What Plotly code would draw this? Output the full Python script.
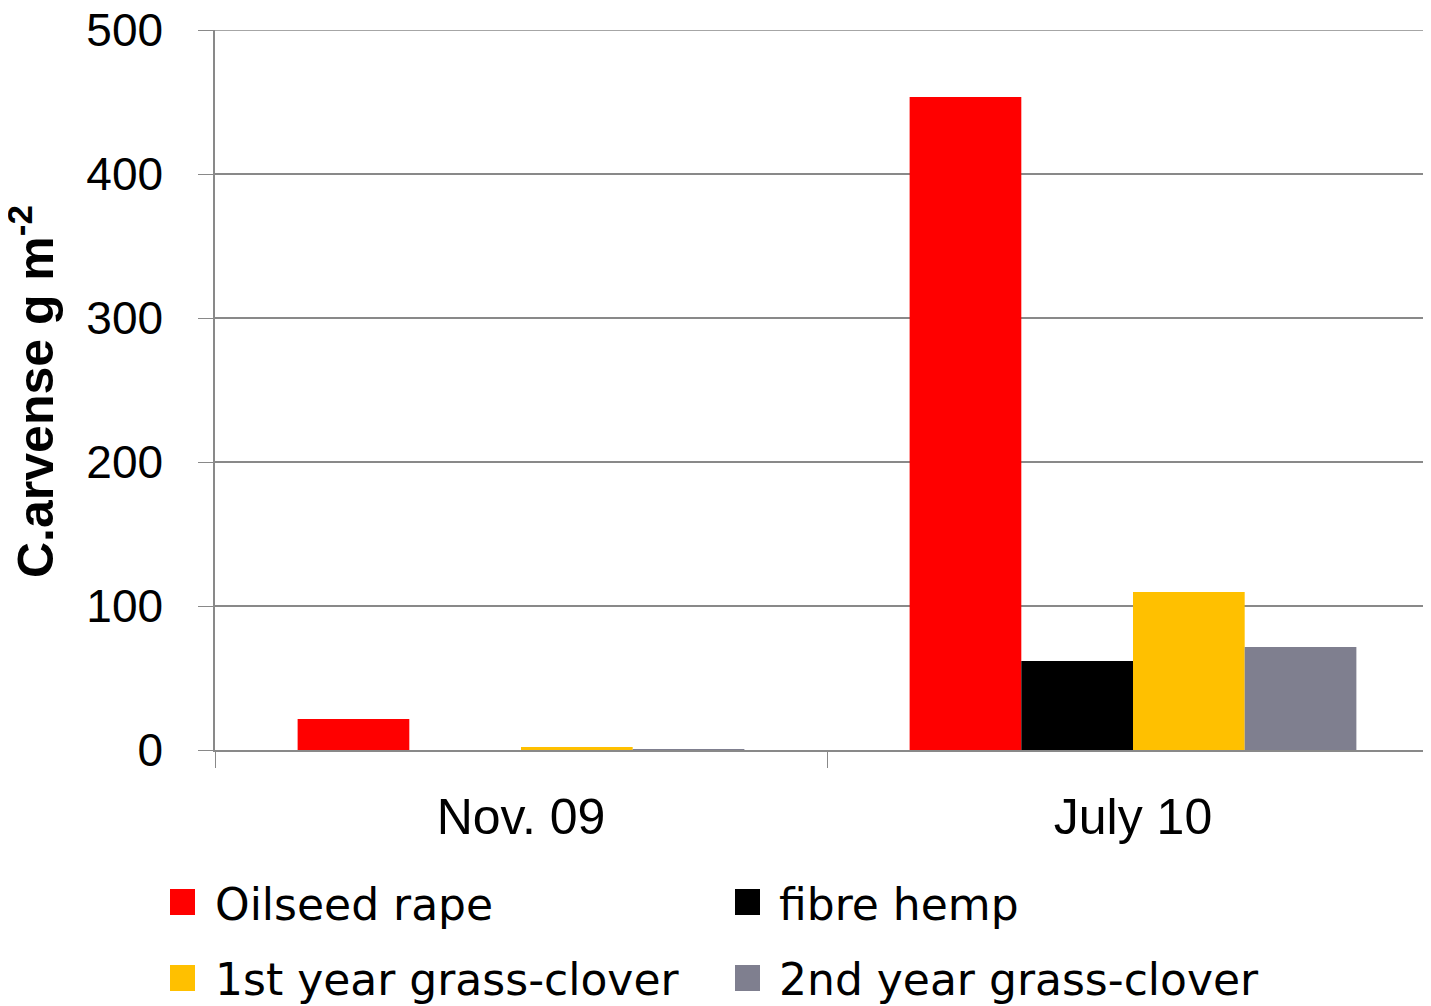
import plotly.graph_objects as go

categories = ["Nov. 09", "July 10"]
series_names = ["Oilseed rape", "fibre hemp", "1st year grass-clover", "2nd year grass-clover"]
oilseed_rape = [21.5, 453.5]
fibre_hemp = [0.0, 61.8]
grass_clover_1st = [2.0, 109.7]
grass_clover_2nd = [0.5, 71.5]
y_ticks = [0, 100, 200, 300, 400, 500]
y_title = "<b>C.arvense g m<sup>-2</sup></b>"

colors = ["#FF0000", "#000000", "#FFC000", "#7F7F8F"]
values = [oilseed_rape, fibre_hemp, grass_clover_1st, grass_clover_2nd]

SANS = "Liberation Sans, Arial, sans-serif"
LEG = "DejaVu Sans, sans-serif"
GRID = "#898989"

PW, PH = 1224, 720  # plot area size in px
X0 = 215

fig = go.Figure()
for name, vals, col in zip(series_names, values, colors):
    fig.add_trace(go.Bar(x=categories, y=vals, name=name, marker=dict(color=col, line=dict(width=0)),
                         showlegend=False))

# top gridline (plotly clips gridlines at the range end)
fig.add_shape(type="line", xref="paper", yref="y", x0=0, x1=1, y0=y_ticks[-1], y1=y_ticks[-1],
              line=dict(color=GRID, width=1.5), layer="below")

# y-axis title as rotated annotation
fig.add_annotation(xref="paper", yref="paper", x=(32 - X0) / PW, y=(750 - 392) / PH,
                   text=y_title, textangle=-90, showarrow=False,
                   xanchor="center", yanchor="middle",
                   font=dict(family=SANS, size=50, color="black"))

# manual legend (large square markers)
sq_x = [170, 735, 170, 735]
txt_x = [213, 777, 213, 777]
sq_y = [902, 902, 978, 978]
txt_y = [905, 905, 979, 979]
for sx, tx, sy, ty, name, col in zip(sq_x, txt_x, sq_y, txt_y, series_names, colors):
    fig.add_shape(type="rect", xref="paper", yref="paper",
                  x0=(sx - X0) / PW, x1=(sx + 25 - X0) / PW,
                  y0=(750 - sy - 13) / PH, y1=(750 - sy + 13) / PH,
                  fillcolor=col, line=dict(width=0))
    fig.add_annotation(xref="paper", yref="paper", x=(tx - X0) / PW, y=(750 - ty) / PH,
                       text=name, showarrow=False, xanchor="left", yanchor="middle",
                       font=dict(family=LEG, size=44, color="black"))

fig.update_layout(
    width=1431, height=998,
    margin=dict(l=207, r=0, t=22, b=256),
    paper_bgcolor="white", plot_bgcolor="white",
    barmode="group", bargap=0.27, bargroupgap=0,
    font=dict(family=SANS, size=46, color="black"),
    xaxis=dict(showline=True, linecolor=GRID, linewidth=1.5, automargin=False,
               ticks="outside", tickson="boundaries", ticklen=16, tickcolor=GRID,
               ticklabelstandoff=22,
               tickfont=dict(family=SANS, size=50), showgrid=False),
    yaxis=dict(range=[0, 500], tickvals=y_ticks, showline=True, linecolor=GRID, linewidth=1.5,
               automargin=False,
               ticks="outside", ticklen=15, tickcolor=GRID,
               ticklabelstandoff=26, ticklabeloverflow="allow",
               gridcolor=GRID, gridwidth=1.5, zeroline=False,
               tickfont=dict(family=SANS, size=46)),
)

fig.write_html("out.html")
